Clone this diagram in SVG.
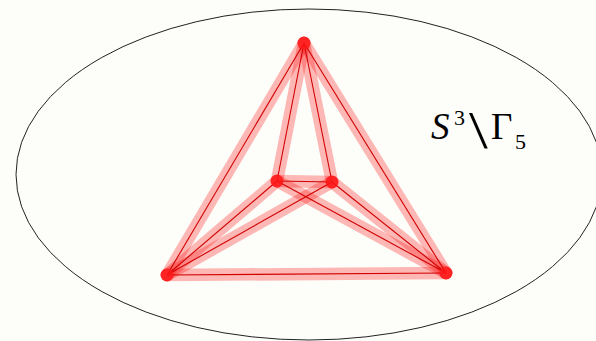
<svg xmlns="http://www.w3.org/2000/svg" width="596" height="341" viewBox="0 0 596 341">
<style>
.band{stroke:#ff0000;stroke-opacity:0.27;stroke-width:12.5;stroke-linecap:round;fill:none}
.core{stroke:#d00000;stroke-width:1.1;fill:none}
.node{fill:#ff1a1a;fill-opacity:0.8}
.t{font-family:"Liberation Serif","DejaVu Serif",serif;fill:#000}
</style>
<rect width="596" height="341" fill="#fdfdf9"/>
<ellipse cx="309" cy="174.5" rx="293" ry="165.5" fill="none" stroke="#222" stroke-width="1"/>
<g id="connectors">
<g class="band">
<line x1="304" y1="43" x2="167" y2="275"/>
<line x1="304" y1="43" x2="446" y2="273"/>
<line x1="304" y1="43" x2="277" y2="181"/>
<line x1="304" y1="43" x2="332" y2="182"/>
<line x1="277" y1="181" x2="332" y2="182"/>
<line x1="277" y1="181" x2="167" y2="275"/>
<line x1="277" y1="181" x2="446" y2="273"/>
<line x1="332" y1="182" x2="167" y2="275"/>
<line x1="332" y1="182" x2="446" y2="273"/>
<line x1="167" y1="275" x2="446" y2="273"/>
</g>
<g class="core">
<line x1="304" y1="43" x2="167" y2="275"/>
<line x1="304" y1="43" x2="446" y2="273"/>
<line x1="304" y1="43" x2="277" y2="181"/>
<line x1="304" y1="43" x2="332" y2="182"/>
<line x1="277" y1="181" x2="332" y2="182"/>
<line x1="277" y1="181" x2="167" y2="275"/>
<line x1="277" y1="181" x2="446" y2="273"/>
<line x1="332" y1="182" x2="167" y2="275"/>
<line x1="332" y1="182" x2="446" y2="273"/>
<line x1="167" y1="275" x2="446" y2="273"/>
</g>
</g>
<g id="n-top"><circle class="node" cx="304" cy="43" r="6.5"/></g>
<g id="n-inner-left"><circle class="node" cx="277" cy="181" r="6.5"/></g>
<g id="n-inner-right"><circle class="node" cx="332" cy="182" r="6.5"/></g>
<g id="n-bottom-left"><circle class="node" cx="167" cy="275" r="6.5"/></g>
<g id="n-bottom-right"><circle class="node" cx="446" cy="273" r="6.5"/></g>
<g id="label">
<text class="t" x="431" y="139" font-size="37" font-style="italic">S</text>
<text class="t" x="454" y="125" font-size="22">3</text>
<text class="t" transform="translate(469,148) scale(1.3,1)" x="0" y="0" font-size="52">\</text>
<text class="t" x="491" y="139" font-size="37">Γ</text>
<text class="t" x="515" y="149" font-size="22">5</text>
</g>
</svg>
